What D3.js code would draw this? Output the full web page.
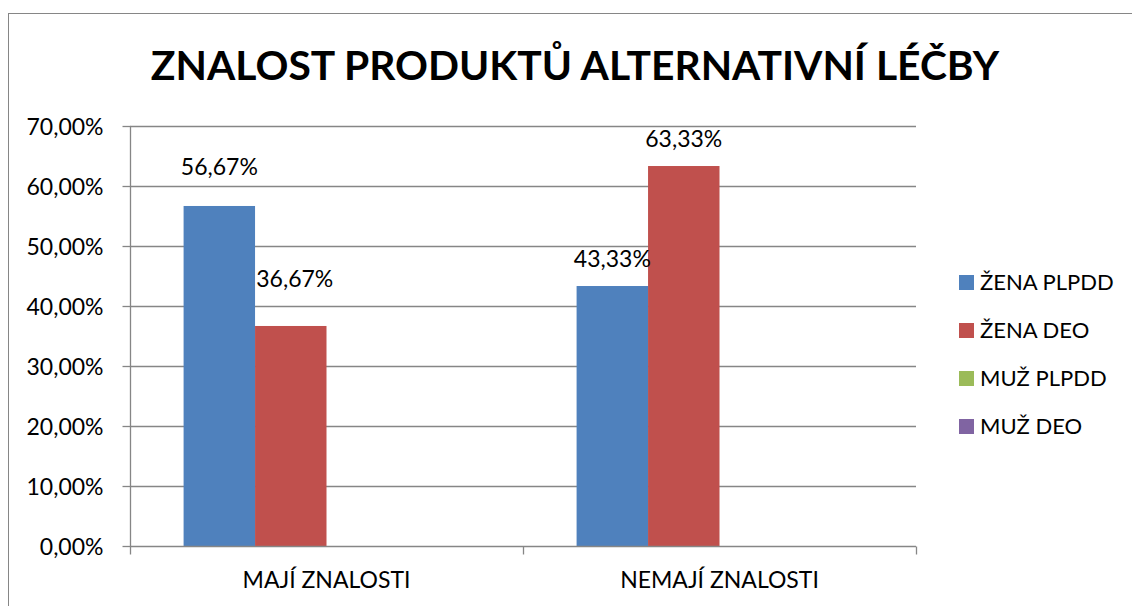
<!DOCTYPE html>
<html><head><meta charset="utf-8">
<script src="https://cdn.jsdelivr.net/npm/d3@7"></script>
<style>
body{margin:0;background:#fff}
svg{display:block}
text{font-family:Lato,"Open Sans",sans-serif;fill:#000}
</style>
</head><body>
<svg id="c" width="1132" height="606"></svg>
<script>
const title = "ZNALOST PRODUKTŮ ALTERNATIVNÍ LÉČBY";
const categories = ["MAJÍ ZNALOSTI", "NEMAJÍ ZNALOSTI"];
const seriesNames = ["ŽENA PLPDD", "ŽENA DEO", "MUŽ PLPDD", "MUŽ DEO"];
const zenaPlpdd = [0.5667, 0.4333];
const zenaDeo = [0.3667, 0.6333];
const muzPlpdd = [null, null];
const muzDeo = [null, null];
const yTicks = [0, 0.1, 0.2, 0.3, 0.4, 0.5, 0.6, 0.7];

const seriesValues = [zenaPlpdd, zenaDeo, muzPlpdd, muzDeo];
const colors = ["#4F81BD", "#C0504D", "#9BBB59", "#8064A2"];
// label nudges (per series, per category) relative to default placement
const labelNudge = [[{dx:0,dy:-12},{dx:0,dy:0}],[{dx:4,dy:-20},{dx:0,dy:0}],[{dx:0,dy:0},{dx:0,dy:0}],[{dx:0,dy:0},{dx:0,dy:0}]];

const loc = d3.formatLocale({decimal: ",", thousands: " ", grouping: [3], currency: ["", ""]});
const fmt = loc.format(".2%");

const svg = d3.select("#c");
const W = 1132, H = 606;
const m = {left: 130, right: 916, top: 126, bottom: 546};
const grey = "#868686";
const fs = "23px";

// outer border
svg.append("rect").attr("x", 8.5).attr("y", 13.5).attr("width", W + 10).attr("height", H + 10)
  .attr("fill", "none").attr("stroke", grey).attr("stroke-width", 1);

const x0 = d3.scaleBand().domain(categories).range([m.left, m.right]).paddingInner(0).paddingOuter(0);
const x1 = d3.scaleBand().domain(seriesNames).range([0, x0.bandwidth()]).paddingInner(0).paddingOuter(0.75);
const y = d3.scaleLinear().domain([0, 0.7]).range([m.bottom, m.top]);

// gridlines
svg.append("g").selectAll("line").data(yTicks.slice(1)).join("line")
  .attr("x1", m.left).attr("x2", m.right)
  .attr("y1", d => Math.round(y(d)) + 0.5).attr("y2", d => Math.round(y(d)) + 0.5)
  .attr("stroke", grey).attr("stroke-width", 1.3);

// bars
const data = [];
seriesNames.forEach((s, si) => categories.forEach((c, ci) => {
  const v = seriesValues[si][ci];
  if (v != null) data.push({s, si, c, ci, v});
}));
svg.append("g").selectAll("rect").data(data).join("rect")
  .attr("x", d => x0(d.c) + x1(d.s))
  .attr("width", x1.bandwidth())
  .attr("y", d => y(d.v))
  .attr("height", d => y(0) - y(d.v))
  .attr("fill", d => colors[d.si]);

// y axis
const yAxis = d3.axisLeft(y).tickValues(yTicks).tickFormat(fmt).tickSize(8).tickPadding(19);
const ga = svg.append("g").attr("transform", `translate(${m.left + 0.5},0)`).call(yAxis);
ga.select(".domain").attr("stroke", grey).attr("stroke-width", 1.3).attr("d", `M0,${m.bottom}V${m.top}`);
ga.selectAll(".tick line").attr("stroke", grey).attr("stroke-width", 1.3);
ga.selectAll(".tick text").style("font-size", fs).attr("fill", "#000").attr("dy", "0.35em");
ga.selectAll(".tick").attr("transform", d => `translate(0,${Math.round(y(d)) + 0.5})`);

// x axis
const xAxis = d3.axisBottom(x0).tickSize(0).tickPadding(0);
const gx = svg.append("g").attr("transform", `translate(0,${m.bottom + 0.5})`).call(xAxis);
gx.select(".domain").attr("stroke", grey).attr("stroke-width", 1.3).attr("d", `M${m.left},0H${m.right}`);
gx.selectAll(".tick text").style("font-size", fs).attr("fill", "#000").attr("y", 41).attr("dy", 0);
const bounds = [m.left, ...categories.map(c => x0(c) + x0.bandwidth())];
gx.selectAll(".btick").data(bounds).join("line").attr("class", "btick")
  .attr("x1", d => d + 0.5).attr("x2", d => d + 0.5).attr("y1", 0).attr("y2", 8)
  .attr("stroke", grey).attr("stroke-width", 1.3);

// data labels
svg.append("g").selectAll("text").data(data).join("text")
  .attr("x", d => x0(d.c) + x1(d.s) + x1.bandwidth() / 2 + labelNudge[d.si][d.ci].dx)
  .attr("y", d => y(d.v) - 19 + labelNudge[d.si][d.ci].dy)
  .attr("text-anchor", "middle")
  .style("font-size", fs)
  .text(d => fmt(d.v));

// title
svg.append("text").attr("x", 575).attr("y", 80).attr("text-anchor", "middle")
  .style("font-size", "40.8px").style("font-weight", "bold").text(title);

// legend
const lg = svg.append("g").attr("transform", "translate(959,275)");
const row = lg.selectAll("g").data(seriesNames).join("g").attr("transform", (d, i) => `translate(0,${i * 48})`);
row.append("rect").attr("width", 15).attr("height", 15).attr("fill", (d, i) => colors[i]);
row.append("text").attr("x", 21).attr("y", 14.5).style("font-size", "22px").text(d => d);
</script>
</body></html>
